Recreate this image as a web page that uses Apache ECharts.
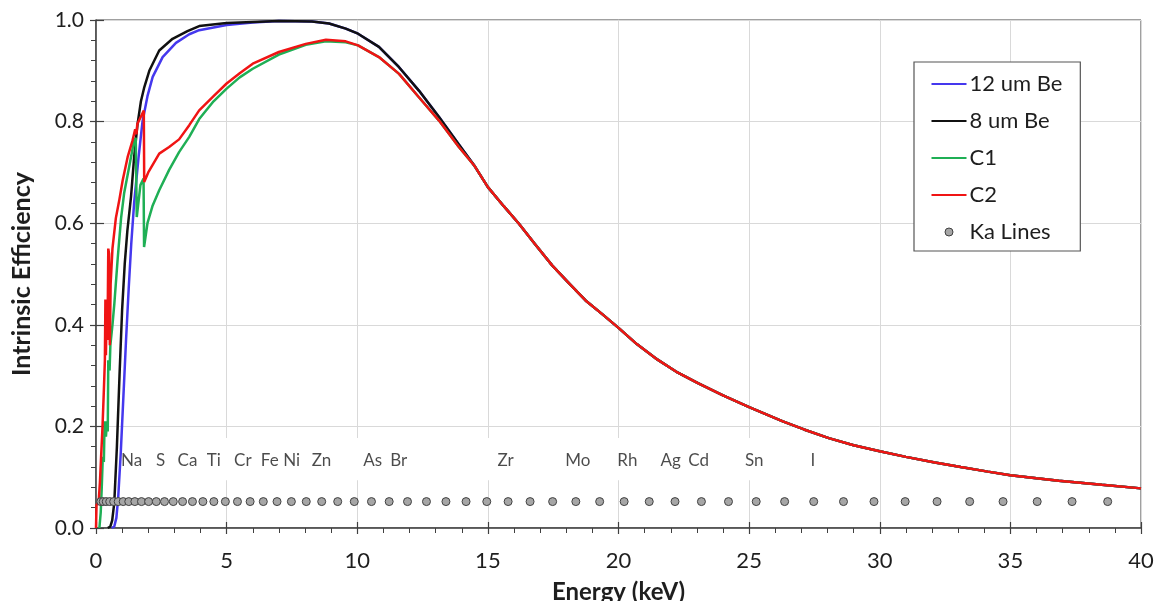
<!DOCTYPE html>
<html>
<head>
<meta charset="utf-8">
<script src="https://cdn.jsdelivr.net/npm/echarts@6/dist/echarts.min.js"></script>
<style>html,body{margin:0;padding:0;background:#fff}#chart{width:1155px;height:601px}</style>
</head>
<body>
<div id="chart"></div>
<script>
// ---- data (energy keV, intrinsic efficiency) ----
const tail = [[14.5,0.712],[15.0,0.671],[15.6,0.634],[16.19,0.599],[16.8,0.559],[17.46,0.517],[18.1,0.482],[18.74,0.448],[19.4,0.42],[20.0,0.394],[20.7,0.362],[21.42,0.334],[22.2,0.308],[23.04,0.285],[24.0,0.261],[25.0,0.238],[26.29,0.21],[27.1,0.194],[28.05,0.177],[29.0,0.163],[30.0,0.151],[31.0,0.140],[32.11,0.129],[33.1,0.12],[34.14,0.111],[35.0,0.104],[36.0,0.098],[36.85,0.093],[38.5,0.085],[40.0,0.078]];

const be12 = [[0.6,0],[0.7,0.003],[0.78,0.02],[0.85,0.06],[0.95,0.15],[1.05,0.26],[1.15,0.37],[1.25,0.47],[1.35,0.56],[1.46,0.64],[1.63,0.73],[1.78,0.80],[1.97,0.85],[2.17,0.888],[2.55,0.927],[3.06,0.955],[3.57,0.972],[3.95,0.98],[5.0,0.99],[6.0,0.995],[7.0,0.998],[8.27,0.997],[8.92,0.993],[9.56,0.983],[10.03,0.973],[10.83,0.947],[11.6,0.907],[12.36,0.861],[13.13,0.809],[13.89,0.755]];

const be8 = [[0.45,0],[0.55,0.003],[0.62,0.015],[0.7,0.05],[0.8,0.16],[0.9,0.30],[1.0,0.43],[1.1,0.52],[1.2,0.585],[1.34,0.652],[1.46,0.73],[1.59,0.795],[1.72,0.84],[1.85,0.868],[2.04,0.90],[2.42,0.94],[2.93,0.963],[3.5,0.978],[3.95,0.988],[5.0,0.994],[7.0,0.998],[8.27,0.997],[8.92,0.993],[9.56,0.983],[10.03,0.973],[10.83,0.947],[11.6,0.907],[12.36,0.861],[13.13,0.809],[13.89,0.755]];

const c1 = [[0.13,0],[0.18,0.03],[0.22,0.08],[0.26,0.14],[0.3,0.13],[0.33,0.21],[0.38,0.18],[0.42,0.21],[0.45,0.19],[0.47,0.33],[0.52,0.31],[0.55,0.36],[0.63,0.40],[0.70,0.44],[0.83,0.53],[0.96,0.61],[1.08,0.66],[1.27,0.711],[1.46,0.763],[1.52,0.768],[1.56,0.612],[1.70,0.675],[1.82,0.688],[1.84,0.553],[1.97,0.60],[2.17,0.635],[2.42,0.665],[2.8,0.705],[3.18,0.74],[3.57,0.77],[3.95,0.805],[4.5,0.84],[5.0,0.865],[5.5,0.887],[6.0,0.904],[7.0,0.932],[8.03,0.951],[8.8,0.958],[9.56,0.956],[10.03,0.95],[10.83,0.927],[11.6,0.894],[12.36,0.848],[13.13,0.802],[13.89,0.75]];

const c2 = [[0.0,0],[0.02,0.045],[0.1,0.05],[0.15,0.09],[0.19,0.134],[0.25,0.2],[0.3,0.27],[0.34,0.33],[0.36,0.45],[0.38,0.34],[0.41,0.44],[0.44,0.37],[0.47,0.55],[0.5,0.54],[0.53,0.36],[0.56,0.48],[0.63,0.55],[0.76,0.61],[0.89,0.645],[1.02,0.684],[1.21,0.73],[1.40,0.763],[1.50,0.785],[1.55,0.775],[1.58,0.795],[1.72,0.81],[1.83,0.822],[1.845,0.681],[2.0,0.70],[2.42,0.737],[2.8,0.75],[3.18,0.765],[3.57,0.793],[3.95,0.822],[4.5,0.85],[5.0,0.875],[5.5,0.895],[6.0,0.914],[7.0,0.937],[8.03,0.953],[8.8,0.961],[9.56,0.958],[10.03,0.95],[10.83,0.927],[11.6,0.894],[12.36,0.848],[13.13,0.802],[13.89,0.75]];

// K-alpha line energies (B .. Pm)
const kaEnergies = [0.183,0.277,0.392,0.525,0.677,0.849,1.041,1.254,1.487,1.740,2.014,2.308,2.622,2.957,3.314,3.692,4.091,4.511,4.952,5.415,5.899,6.404,6.930,7.478,8.048,8.639,9.252,9.886,10.544,11.222,11.924,12.649,13.395,14.165,14.958,15.775,16.615,17.479,18.367,19.279,20.216,21.177,22.163,23.174,24.210,25.271,26.359,27.472,28.612,29.779,30.973,32.194,33.442,34.720,36.027,37.361,38.725];
const KA_LEVEL = 0.052;

const elementNames = ['Na','S','Ca','Ti','Cr','Fe','Ni','Zn','As','Br','Zr','Mo','Rh','Ag','Cd','Sn','I'];
const elementPos   = [1.36,2.47,3.50,4.51,5.62,6.65,7.49,8.63,10.59,11.59,15.68,18.44,20.34,22.0,23.07,25.2,27.44];
const LABEL_LEVEL = 0.132;

// ---- chart ----
const FONT = 'Lato, "Liberation Sans", sans-serif';
const TXT = '#1e1e1e';
const AX = '#404040';
const LINE_ICON = 'path://M0,0 M35,14 M0,6 L35,6 L35,8 L0,8 Z';
const DOT_ICON = 'path://M0,0 M35,14 M13.5,7 a4,4 0 1,0 8,0 a4,4 0 1,0 -8,0 Z';
const chart = echarts.init(document.getElementById('chart'), null, {renderer:'canvas'});

const lineSeries = (name, data, color) => ({
  name, type:'line', data: data.concat(tail), symbol:'none', showSymbol:false,
  lineStyle:{color, width:2.5}, itemStyle:{color}, z:3, animation:false
});

const option = {
  animation:false,
  textStyle:{fontFamily:FONT},
  grid:{left:96, right:14, top:20, bottom:73, show:true, borderColor:AX, borderWidth:1,
        containLabel:false, outerBoundsMode:'none'},
  legend:{
    orient:'vertical', left:914, top:62,
    padding:[11,18,8,17], itemGap:15, itemWidth:35, itemHeight:14,
    backgroundColor:'#fff', borderColor:'#555', borderWidth:1.2, borderRadius:0,
    textStyle:{fontFamily:FONT, fontSize:22, color:TXT, padding:[0,0,0,-2]},
    data:[
      {name:'12 um Be', icon:LINE_ICON},{name:'8 um Be', icon:LINE_ICON},
      {name:'C1', icon:LINE_ICON},{name:'C2', icon:LINE_ICON},
      {name:'Ka Lines', icon:DOT_ICON,
       itemStyle:{color:'#a6a6a6', borderColor:'#404040', borderWidth:1}}
    ]
  },
  xAxis:[{
    type:'value', min:0, max:40, interval:5, position:'bottom',
    name:'Energy (keV)', nameLocation:'middle', nameGap:52,
    nameTextStyle:{fontFamily:FONT, fontSize:24, fontWeight:'bold', color:TXT},
    axisLine:{show:true, lineStyle:{color:AX, width:1.5}},
    axisTick:{show:true, length:6, lineStyle:{color:AX, width:1.2}},
    minorTick:{show:true, splitNumber:5, length:5, lineStyle:{color:AX, width:1}},
    axisLabel:{fontFamily:FONT, fontSize:22, color:TXT, margin:22},
    splitLine:{show:true, lineStyle:{color:'#d9d9d9', width:1}}
  },{
    type:'value', min:0, max:40, interval:5, position:'bottom',
    axisLine:{show:false}, axisLabel:{show:false}, splitLine:{show:false},
    axisTick:{show:true, inside:true, length:6, lineStyle:{color:AX, width:1.2}}
  }],
  yAxis:[{
    type:'value', min:0, max:1, interval:0.2, position:'left',
    name:'Intrinsic Efficiency', nameLocation:'middle', nameGap:62,
    nameTextStyle:{fontFamily:FONT, fontSize:25, fontWeight:'bold', color:TXT},
    axisLine:{show:true, lineStyle:{color:AX, width:1.5}},
    axisTick:{show:true, length:6, lineStyle:{color:AX, width:1.2}},
    minorTick:{show:true, splitNumber:5, length:5, lineStyle:{color:AX, width:1}},
    axisLabel:{fontFamily:FONT, fontSize:21, color:TXT, margin:12, formatter:v=>v.toFixed(1)},
    splitLine:{show:true, lineStyle:{color:'#d9d9d9', width:1}}
  },{
    type:'value', min:0, max:1, interval:0.2, position:'left',
    axisLine:{show:false}, axisLabel:{show:false}, splitLine:{show:false},
    axisTick:{show:true, inside:true, length:8, lineStyle:{color:AX, width:1.2}}
  }],
  series:[
    {
      name:'labels', type:'scatter', symbolSize:0, z:1, silent:true,
      data: elementNames.map((n,i)=>({name:n, value:[elementPos[i], LABEL_LEVEL]})),
      label:{show:true, position:'inside', formatter:'{b}', fontFamily:FONT, fontSize:17, color:TXT},
      markArea:{silent:true, itemStyle:{color:'#ffffff', opacity:1}, label:{show:false},
        data:[[{coord:[1.05,0.094]},{coord:[28.4,0.177]}]]}
    },
    lineSeries('12 um Be', be12, '#4538ee'),
    lineSeries('8 um Be', be8, '#111111'),
    lineSeries('C1', c1, '#1faf55'),
    lineSeries('C2', c2, '#f01414'),
    {
      name:'Ka Lines', type:'scatter', z:4,
      data: kaEnergies.map(e=>[e, KA_LEVEL]),
      symbol:'circle', symbolSize:8,
      itemStyle:{color:'#a6a6a6', borderColor:'#404040', borderWidth:1, opacity:1}
    }
  ]
};
chart.setOption(option);
</script>
</body>
</html>
